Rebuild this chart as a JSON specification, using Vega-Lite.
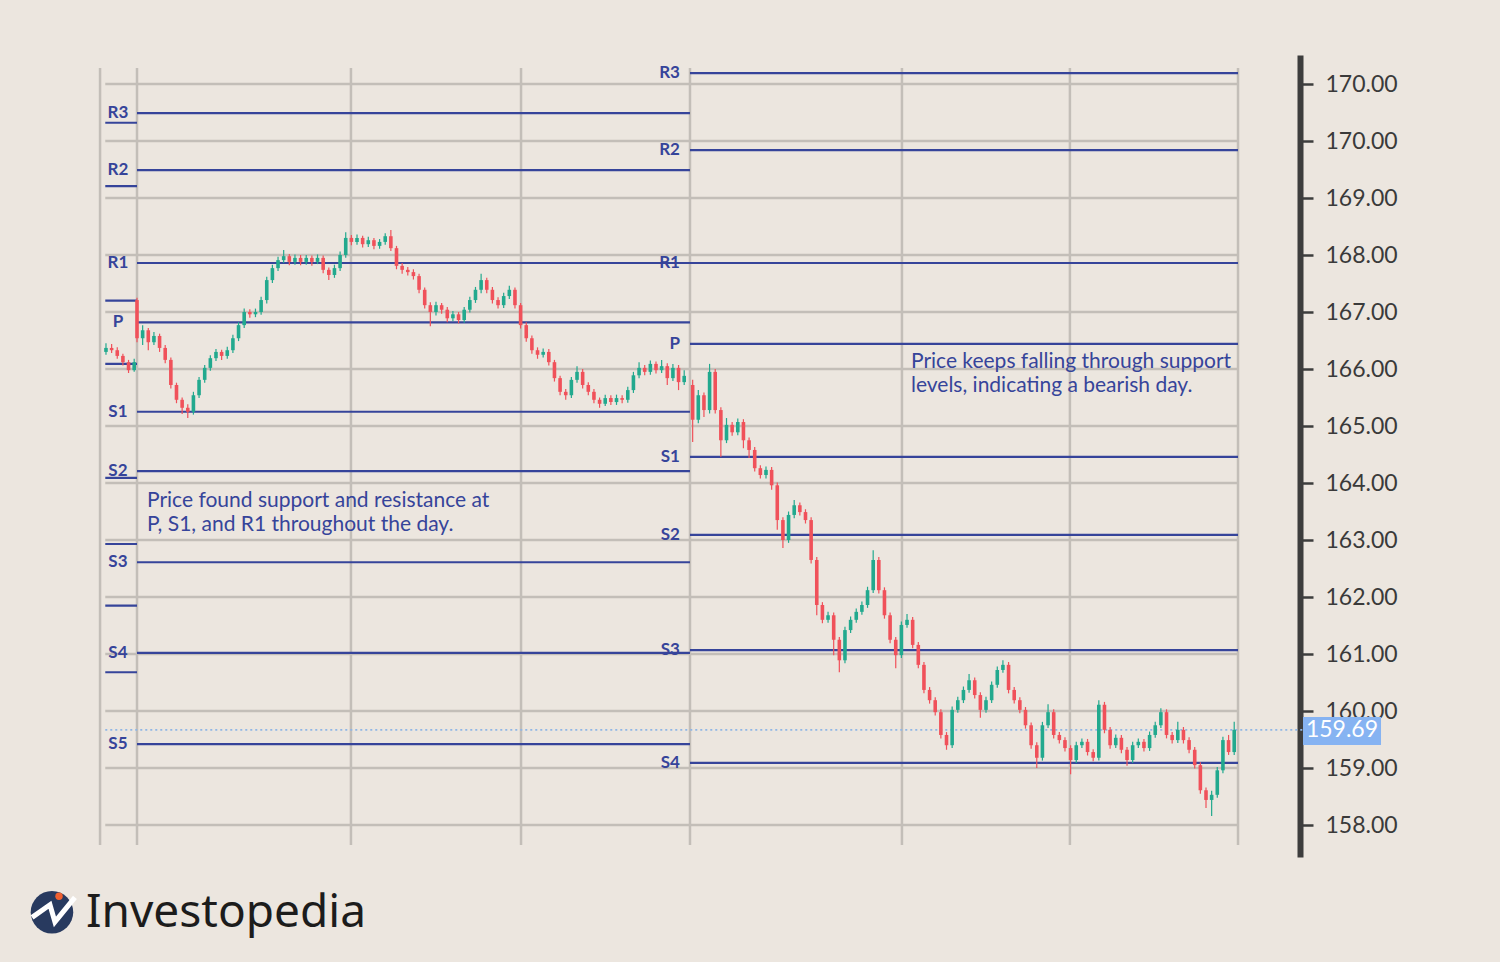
{
"$schema": "https://vega.github.io/schema/vega-lite/v6.json",
"autosize": "none",
"width": 1200,
"height": 802,
"padding": {"left": 100, "top": 55, "right": 200, "bottom": 105},
"background": "#ece6df",
"config": {"view": {"stroke": null}, "font": "Lato", "axis": {"grid": false}, "scale": {"continuousPadding": 0}},
"datasets": {
"hgrid": [{"p":158},{"p":159},{"p":160},{"p":161},{"p":162},{"p":163},{"p":164},{"p":165},{"p":166},{"p":167},{"p":168},{"p":169},{"p":170},{"p":171}],
"vgrid": [{"t":-26.2},{"t":0},{"t":151.7},{"t":272.3},{"t":392.1},{"t":542.4},{"t":661.5},{"t":780.7}],
"pivots": [
{"lvl":"R3","p":170.49,"t0":0,"t1":392.1,"day":1},{"lvl":"R2","p":169.49,"t0":0,"t1":392.1,"day":1},{"lvl":"R1","p":167.86,"t0":0,"t1":392.1,"day":1},{"lvl":"P","p":166.82,"t0":0,"t1":392.1,"day":1},{"lvl":"S1","p":165.25,"t0":0,"t1":392.1,"day":1},{"lvl":"S2","p":164.21,"t0":0,"t1":392.1,"day":1},{"lvl":"S3","p":162.61,"t0":0,"t1":392.1,"day":1},{"lvl":"S4","p":161.02,"t0":0,"t1":392.1,"day":1},{"lvl":"S5","p":159.42,"t0":0,"t1":392.1,"day":1},
{"lvl":"R3","p":171.19,"t0":392.1,"t1":780.7,"day":2},{"lvl":"R2","p":169.84,"t0":392.1,"t1":780.7,"day":2},{"lvl":"R1","p":167.86,"t0":392.1,"t1":780.7,"day":2},{"lvl":"P","p":166.44,"t0":392.1,"t1":780.7,"day":2},{"lvl":"S1","p":164.46,"t0":392.1,"t1":780.7,"day":2},{"lvl":"S2","p":163.09,"t0":392.1,"t1":780.7,"day":2},{"lvl":"S3","p":161.07,"t0":392.1,"t1":780.7,"day":2},{"lvl":"S4","p":159.09,"t0":392.1,"t1":780.7,"day":2},
{"lvl":"","p":170.32,"t0":-22.5,"t1":0,"day":0},{"lvl":"","p":169.21,"t0":-22.5,"t1":0,"day":0},{"lvl":"","p":167.20,"t0":-22.5,"t1":0,"day":0},{"lvl":"","p":166.09,"t0":-22.5,"t1":0,"day":0},{"lvl":"","p":164.09,"t0":-22.5,"t1":0,"day":0},{"lvl":"","p":162.93,"t0":-22.5,"t1":0,"day":0},{"lvl":"","p":161.85,"t0":-22.5,"t1":0,"day":0},{"lvl":"","p":160.68,"t0":-22.5,"t1":0,"day":0}
],
"candles": [
{"t":-22,"o":166.30,"h":166.45,"l":166.25,"c":166.37},
{"t":-18,"o":166.37,"h":166.44,"l":166.28,"c":166.33},
{"t":-14,"o":166.33,"h":166.38,"l":166.18,"c":166.23},
{"t":-10,"o":166.23,"h":166.27,"l":166.06,"c":166.12},
{"t":-6,"o":166.12,"h":166.16,"l":165.93,"c":165.98},
{"t":-2,"o":165.98,"h":166.18,"l":165.95,"c":166.12},
{"t":0,"o":167.21,"h":167.25,"l":166.47,"c":166.54},
{"t":4,"o":166.54,"h":166.77,"l":166.42,"c":166.68},
{"t":8,"o":166.68,"h":166.72,"l":166.33,"c":166.47},
{"t":12,"o":166.47,"h":166.65,"l":166.42,"c":166.58},
{"t":16,"o":166.58,"h":166.62,"l":166.30,"c":166.37},
{"t":20,"o":166.37,"h":166.42,"l":166.10,"c":166.16},
{"t":24,"o":166.16,"h":166.20,"l":165.66,"c":165.72},
{"t":28,"o":165.72,"h":165.76,"l":165.40,"c":165.46},
{"t":32,"o":165.46,"h":165.50,"l":165.21,"c":165.32},
{"t":36,"o":165.32,"h":165.38,"l":165.14,"c":165.25},
{"t":40,"o":165.25,"h":165.60,"l":165.20,"c":165.54},
{"t":44,"o":165.54,"h":165.86,"l":165.49,"c":165.81},
{"t":48,"o":165.81,"h":166.07,"l":165.76,"c":166.02},
{"t":52,"o":166.02,"h":166.24,"l":165.97,"c":166.19},
{"t":56,"o":166.19,"h":166.35,"l":166.14,"c":166.30},
{"t":60,"o":166.30,"h":166.34,"l":166.16,"c":166.23},
{"t":64,"o":166.23,"h":166.39,"l":166.18,"c":166.33},
{"t":68,"o":166.33,"h":166.60,"l":166.28,"c":166.54},
{"t":72,"o":166.54,"h":166.82,"l":166.49,"c":166.77},
{"t":76,"o":166.77,"h":167.06,"l":166.72,"c":167.00},
{"t":80,"o":167.00,"h":167.05,"l":166.90,"c":166.96},
{"t":84,"o":166.96,"h":167.06,"l":166.91,"c":167.00},
{"t":88,"o":167.00,"h":167.27,"l":166.95,"c":167.21},
{"t":92,"o":167.21,"h":167.62,"l":167.15,"c":167.56},
{"t":96,"o":167.56,"h":167.83,"l":167.51,"c":167.77},
{"t":100,"o":167.77,"h":167.97,"l":167.72,"c":167.91},
{"t":104,"o":167.91,"h":168.09,"l":167.86,"c":167.98},
{"t":108,"o":167.98,"h":168.02,"l":167.82,"c":167.88},
{"t":112,"o":167.88,"h":168.01,"l":167.83,"c":167.95},
{"t":116,"o":167.95,"h":168.00,"l":167.82,"c":167.88},
{"t":120,"o":167.88,"h":168.00,"l":167.83,"c":167.95},
{"t":124,"o":167.95,"h":167.99,"l":167.81,"c":167.88},
{"t":128,"o":167.88,"h":168.01,"l":167.84,"c":167.95},
{"t":132,"o":167.95,"h":167.99,"l":167.68,"c":167.74},
{"t":136,"o":167.74,"h":167.78,"l":167.56,"c":167.65},
{"t":140,"o":167.65,"h":167.83,"l":167.60,"c":167.77},
{"t":144,"o":167.77,"h":168.06,"l":167.72,"c":168.00},
{"t":148,"o":168.00,"h":168.40,"l":167.95,"c":168.30},
{"t":152,"o":168.30,"h":168.35,"l":168.17,"c":168.23},
{"t":156,"o":168.23,"h":168.36,"l":168.18,"c":168.30},
{"t":160,"o":168.30,"h":168.34,"l":168.13,"c":168.19},
{"t":164,"o":168.19,"h":168.32,"l":168.14,"c":168.26},
{"t":168,"o":168.26,"h":168.30,"l":168.10,"c":168.16},
{"t":172,"o":168.16,"h":168.28,"l":168.11,"c":168.23},
{"t":176,"o":168.23,"h":168.38,"l":168.18,"c":168.33},
{"t":180,"o":168.33,"h":168.44,"l":168.07,"c":168.12},
{"t":184,"o":168.12,"h":168.16,"l":167.75,"c":167.81},
{"t":188,"o":167.81,"h":167.86,"l":167.67,"c":167.74},
{"t":192,"o":167.74,"h":167.79,"l":167.64,"c":167.70},
{"t":196,"o":167.70,"h":167.75,"l":167.57,"c":167.63},
{"t":200,"o":167.63,"h":167.67,"l":167.33,"c":167.39},
{"t":204,"o":167.39,"h":167.43,"l":167.06,"c":167.12},
{"t":208,"o":167.12,"h":167.17,"l":166.75,"c":167.00},
{"t":212,"o":167.00,"h":167.18,"l":166.94,"c":167.12},
{"t":216,"o":167.12,"h":167.16,"l":166.97,"c":167.04},
{"t":220,"o":167.04,"h":167.09,"l":166.82,"c":166.89},
{"t":224,"o":166.89,"h":167.02,"l":166.84,"c":166.96},
{"t":228,"o":166.96,"h":167.00,"l":166.80,"c":166.86},
{"t":232,"o":166.86,"h":167.09,"l":166.81,"c":167.04},
{"t":236,"o":167.04,"h":167.27,"l":166.99,"c":167.21},
{"t":240,"o":167.21,"h":167.44,"l":167.16,"c":167.39},
{"t":244,"o":167.39,"h":167.67,"l":167.33,"c":167.56},
{"t":248,"o":167.56,"h":167.60,"l":167.33,"c":167.39},
{"t":252,"o":167.39,"h":167.44,"l":167.15,"c":167.21},
{"t":256,"o":167.21,"h":167.26,"l":167.06,"c":167.12},
{"t":260,"o":167.12,"h":167.34,"l":167.07,"c":167.28},
{"t":264,"o":167.28,"h":167.46,"l":167.23,"c":167.39},
{"t":268,"o":167.39,"h":167.43,"l":167.06,"c":167.12},
{"t":272,"o":167.12,"h":167.16,"l":166.71,"c":166.77},
{"t":276,"o":166.77,"h":166.82,"l":166.48,"c":166.54},
{"t":280,"o":166.54,"h":166.59,"l":166.27,"c":166.33},
{"t":284,"o":166.33,"h":166.38,"l":166.18,"c":166.25},
{"t":288,"o":166.25,"h":166.36,"l":166.20,"c":166.30},
{"t":292,"o":166.30,"h":166.35,"l":166.06,"c":166.12},
{"t":296,"o":166.12,"h":166.16,"l":165.78,"c":165.84},
{"t":300,"o":165.84,"h":165.88,"l":165.54,"c":165.60},
{"t":304,"o":165.60,"h":165.65,"l":165.46,"c":165.54},
{"t":308,"o":165.54,"h":165.86,"l":165.49,"c":165.81},
{"t":312,"o":165.81,"h":166.05,"l":165.76,"c":165.95},
{"t":316,"o":165.95,"h":166.00,"l":165.66,"c":165.72},
{"t":320,"o":165.72,"h":165.77,"l":165.54,"c":165.60},
{"t":324,"o":165.60,"h":165.65,"l":165.40,"c":165.46},
{"t":328,"o":165.46,"h":165.50,"l":165.32,"c":165.39},
{"t":332,"o":165.39,"h":165.55,"l":165.35,"c":165.49},
{"t":336,"o":165.49,"h":165.54,"l":165.37,"c":165.42},
{"t":340,"o":165.42,"h":165.55,"l":165.37,"c":165.49},
{"t":344,"o":165.49,"h":165.54,"l":165.40,"c":165.46},
{"t":348,"o":165.46,"h":165.69,"l":165.41,"c":165.63},
{"t":352,"o":165.63,"h":165.95,"l":165.58,"c":165.89},
{"t":356,"o":165.89,"h":166.12,"l":165.84,"c":166.02},
{"t":360,"o":166.02,"h":166.07,"l":165.89,"c":165.95},
{"t":364,"o":165.95,"h":166.15,"l":165.90,"c":166.09},
{"t":368,"o":166.09,"h":166.13,"l":165.92,"c":165.98},
{"t":372,"o":165.98,"h":166.16,"l":165.93,"c":166.05},
{"t":376,"o":166.05,"h":166.10,"l":165.72,"c":165.84},
{"t":380,"o":165.84,"h":166.09,"l":165.79,"c":166.02},
{"t":384,"o":166.02,"h":166.07,"l":165.63,"c":165.77},
{"t":388,"o":165.77,"h":165.98,"l":165.72,"c":165.88},
{"t":394,"o":165.72,"h":165.81,"l":164.72,"c":165.11},
{"t":398,"o":165.11,"h":165.63,"l":165.05,"c":165.54},
{"t":402,"o":165.54,"h":165.59,"l":165.16,"c":165.28},
{"t":406,"o":165.28,"h":166.09,"l":165.22,"c":165.95},
{"t":410,"o":165.95,"h":166.00,"l":165.22,"c":165.28},
{"t":414,"o":165.28,"h":165.33,"l":164.46,"c":164.75},
{"t":418,"o":164.75,"h":165.14,"l":164.70,"c":165.02},
{"t":422,"o":165.02,"h":165.07,"l":164.83,"c":164.89},
{"t":426,"o":164.89,"h":165.13,"l":164.84,"c":165.07},
{"t":430,"o":165.07,"h":165.12,"l":164.61,"c":164.75},
{"t":434,"o":164.75,"h":164.80,"l":164.44,"c":164.58},
{"t":438,"o":164.58,"h":164.63,"l":164.20,"c":164.26},
{"t":442,"o":164.26,"h":164.31,"l":164.08,"c":164.14},
{"t":446,"o":164.14,"h":164.29,"l":164.08,"c":164.23},
{"t":450,"o":164.23,"h":164.28,"l":163.88,"c":163.96},
{"t":454,"o":163.96,"h":164.01,"l":163.18,"c":163.35},
{"t":458,"o":163.35,"h":163.40,"l":162.86,"c":163.00},
{"t":462,"o":163.00,"h":163.50,"l":162.95,"c":163.44},
{"t":466,"o":163.44,"h":163.70,"l":163.38,"c":163.61},
{"t":470,"o":163.61,"h":163.66,"l":163.43,"c":163.49},
{"t":474,"o":163.49,"h":163.54,"l":163.29,"c":163.35},
{"t":478,"o":163.35,"h":163.40,"l":162.59,"c":162.65},
{"t":482,"o":162.65,"h":162.70,"l":161.68,"c":161.86},
{"t":486,"o":161.86,"h":161.91,"l":161.54,"c":161.60},
{"t":490,"o":161.60,"h":161.74,"l":161.55,"c":161.68},
{"t":494,"o":161.68,"h":161.73,"l":160.98,"c":161.25},
{"t":498,"o":161.25,"h":161.30,"l":160.68,"c":160.89},
{"t":502,"o":160.89,"h":161.48,"l":160.84,"c":161.42},
{"t":506,"o":161.42,"h":161.66,"l":161.37,"c":161.60},
{"t":510,"o":161.60,"h":161.80,"l":161.55,"c":161.74},
{"t":514,"o":161.74,"h":161.92,"l":161.69,"c":161.86},
{"t":518,"o":161.86,"h":162.18,"l":161.81,"c":162.12},
{"t":522,"o":162.12,"h":162.82,"l":162.07,"c":162.65},
{"t":526,"o":162.65,"h":162.70,"l":162.06,"c":162.12},
{"t":530,"o":162.12,"h":162.17,"l":161.62,"c":161.68},
{"t":534,"o":161.68,"h":161.73,"l":161.19,"c":161.25},
{"t":538,"o":161.25,"h":161.30,"l":160.75,"c":160.98},
{"t":542,"o":160.98,"h":161.57,"l":160.93,"c":161.51},
{"t":546,"o":161.51,"h":161.70,"l":161.46,"c":161.60},
{"t":550,"o":161.60,"h":161.65,"l":161.10,"c":161.16},
{"t":554,"o":161.16,"h":161.21,"l":160.75,"c":160.81},
{"t":558,"o":160.81,"h":160.86,"l":160.31,"c":160.37},
{"t":562,"o":160.37,"h":160.42,"l":160.13,"c":160.19},
{"t":566,"o":160.19,"h":160.24,"l":159.92,"c":159.98},
{"t":570,"o":159.98,"h":160.03,"l":159.52,"c":159.58},
{"t":574,"o":159.58,"h":159.63,"l":159.32,"c":159.40},
{"t":578,"o":159.40,"h":160.08,"l":159.35,"c":160.02},
{"t":582,"o":160.02,"h":160.25,"l":159.97,"c":160.19},
{"t":586,"o":160.19,"h":160.43,"l":160.14,"c":160.37},
{"t":590,"o":160.37,"h":160.65,"l":160.32,"c":160.54},
{"t":594,"o":160.54,"h":160.59,"l":160.22,"c":160.28},
{"t":598,"o":160.28,"h":160.33,"l":159.88,"c":160.02},
{"t":602,"o":160.02,"h":160.25,"l":159.97,"c":160.19},
{"t":606,"o":160.19,"h":160.52,"l":160.14,"c":160.46},
{"t":610,"o":160.46,"h":160.78,"l":160.41,"c":160.72},
{"t":614,"o":160.72,"h":160.89,"l":160.67,"c":160.81},
{"t":618,"o":160.81,"h":160.86,"l":160.31,"c":160.37},
{"t":622,"o":160.37,"h":160.42,"l":160.13,"c":160.19},
{"t":626,"o":160.19,"h":160.24,"l":159.96,"c":160.02},
{"t":630,"o":160.02,"h":160.07,"l":159.69,"c":159.75},
{"t":634,"o":159.75,"h":159.80,"l":159.34,"c":159.40},
{"t":638,"o":159.40,"h":159.45,"l":159.00,"c":159.18},
{"t":642,"o":159.18,"h":159.81,"l":159.13,"c":159.75},
{"t":646,"o":159.75,"h":160.12,"l":159.70,"c":159.98},
{"t":650,"o":159.98,"h":160.03,"l":159.52,"c":159.58},
{"t":654,"o":159.58,"h":159.63,"l":159.43,"c":159.49},
{"t":658,"o":159.49,"h":159.54,"l":159.29,"c":159.35},
{"t":662,"o":159.35,"h":159.40,"l":158.89,"c":159.14},
{"t":666,"o":159.14,"h":159.46,"l":159.09,"c":159.40},
{"t":670,"o":159.40,"h":159.52,"l":159.35,"c":159.46},
{"t":674,"o":159.46,"h":159.51,"l":159.22,"c":159.28},
{"t":678,"o":159.28,"h":159.33,"l":159.12,"c":159.18},
{"t":682,"o":159.18,"h":160.19,"l":159.13,"c":160.11},
{"t":686,"o":160.11,"h":160.16,"l":159.61,"c":159.67},
{"t":690,"o":159.67,"h":159.72,"l":159.34,"c":159.40},
{"t":694,"o":159.40,"h":159.59,"l":159.35,"c":159.53},
{"t":698,"o":159.53,"h":159.58,"l":159.26,"c":159.32},
{"t":702,"o":159.32,"h":159.37,"l":159.04,"c":159.14},
{"t":706,"o":159.14,"h":159.46,"l":159.09,"c":159.40},
{"t":710,"o":159.40,"h":159.52,"l":159.35,"c":159.46},
{"t":714,"o":159.46,"h":159.51,"l":159.29,"c":159.35},
{"t":718,"o":159.35,"h":159.64,"l":159.30,"c":159.58},
{"t":722,"o":159.58,"h":159.81,"l":159.53,"c":159.75},
{"t":726,"o":159.75,"h":160.05,"l":159.70,"c":159.98},
{"t":730,"o":159.98,"h":160.03,"l":159.52,"c":159.58},
{"t":734,"o":159.58,"h":159.63,"l":159.43,"c":159.49},
{"t":738,"o":159.49,"h":159.81,"l":159.44,"c":159.67},
{"t":742,"o":159.67,"h":159.72,"l":159.43,"c":159.49},
{"t":746,"o":159.49,"h":159.54,"l":159.26,"c":159.32},
{"t":750,"o":159.32,"h":159.37,"l":158.99,"c":159.05},
{"t":754,"o":159.05,"h":159.10,"l":158.55,"c":158.61},
{"t":758,"o":158.61,"h":158.66,"l":158.30,"c":158.44},
{"t":762,"o":158.44,"h":158.60,"l":158.16,"c":158.53},
{"t":766,"o":158.53,"h":159.02,"l":158.48,"c":158.96},
{"t":770,"o":158.96,"h":159.55,"l":158.91,"c":159.49},
{"t":774,"o":159.49,"h":159.58,"l":159.23,"c":159.28},
{"t":778,"o":159.28,"h":159.81,"l":159.23,"c":159.67}
],
"notes": [
{"t":7.1,"p":163.684,"txt":"Price found support and resistance at"},
{"t":7.1,"p":163.263,"txt":"P, S1, and R1 throughout the day."},
{"t":548.8,"p":166.123,"txt":"Price keeps falling through support"},
{"t":548.8,"p":165.702,"txt":"levels, indicating a bearish day."}
],
"last": [{"t0":-22.5,"t1":826.8,"tx":854.4,"tb0":826.8,"tb1":882.1,"p":159.67,"pb0":159.404,"pb1":159.895,"txt":"159.69"}],
"logo": [{"t":-60.3,"p":156.47,"tt":-36.2,"tp":156.45,"dt":-55.3,"dp":156.75,"txt":"Investopedia"}],
"zig": [{"i":0,"t":-74.4,"p":156.38},{"i":1,"t":-61.7,"p":156.60},{"i":2,"t":-58.2,"p":156.30},{"i":3,"t":-44.0,"p":156.73}]
},
"layer": [
{
"data": {"name": "hgrid"},
"mark": {"type": "rule", "color": "#c3beb8", "strokeWidth": 2.5},
"encoding": {
"x": {"datum": -22.5, "type": "quantitative", "scale": {"domain": [-26.24, 824.65], "nice": false, "zero": false, "padding": 0}, "axis": null},
"x2": {"datum": 780.7},
"y": {"field": "p", "type": "quantitative", "scale": {"domain": [157.439, 171.509], "nice": false, "zero": false, "padding": 0},
"axis": {"orient": "right", "title": null, "values": [158,159,160,161,162,163,164,165,166,167,168,169,170,171],
"labelExpr": "datum.value == 171 ? '170.00' : format(datum.value, '.2f')",
"domainColor": "#3d3d3d", "domainWidth": 6, "tickColor": "#3d3d3d", "tickWidth": 2.5, "tickSize": 13,
"labelFontSize": 23, "labelColor": "#3a3a3a", "labelPadding": 12, "labelFont": "Lato", "grid": false, "labelOverlap": false}}
}
},
{
"data": {"name": "vgrid"},
"mark": {"type": "rule", "color": "#c3beb8", "strokeWidth": 2.5},
"encoding": {
"x": {"field": "t", "type": "quantitative"},
"y": {"datum": 171.28, "type": "quantitative"},
"y2": {"datum": 157.65}
}
},
{
"data": {"name": "pivots"},
"mark": {"type": "rule", "color": "#36449a", "strokeWidth": 2.2},
"encoding": {
"x": {"field": "t0", "type": "quantitative"},
"x2": {"field": "t1"},
"y": {"field": "p", "type": "quantitative"}
}
},
{
"data": {"name": "last"},
"mark": {"type": "rule", "color": "#8fb6e6", "strokeWidth": 1.6, "strokeDash": [2, 3]},
"encoding": {
"x": {"field": "t0", "type": "quantitative"},
"x2": {"field": "t1"},
"y": {"field": "p", "type": "quantitative"}
}
},
{
"data": {"name": "candles"},
"mark": {"type": "rule", "strokeWidth": 1.2},
"encoding": {
"x": {"field": "t", "type": "quantitative"},
"y": {"field": "l", "type": "quantitative"},
"y2": {"field": "h"},
"color": {"condition": {"test": "datum.c >= datum.o", "value": "#22a98e"}, "value": "#f0515a"}
}
},
{
"data": {"name": "candles"},
"mark": {"type": "bar", "size": 3.6},
"encoding": {
"x": {"field": "t", "type": "quantitative"},
"y": {"field": "o", "type": "quantitative"},
"y2": {"field": "c"},
"color": {"condition": {"test": "datum.c >= datum.o", "value": "#22a98e"}, "value": "#f0515a"}
}
},
{
"data": {"name": "pivots"},
"transform": [{"filter": "datum.day == 1"}],
"mark": {"type": "text", "align": "center", "baseline": "middle", "fontSize": 17, "color": "#36449a", "fontWeight": "bold"},
"encoding": {
"x": {"datum": -13.5, "type": "quantitative"},
"y": {"field": "p", "type": "quantitative"},
"text": {"field": "lvl"}
}
},
{
"data": {"name": "pivots"},
"transform": [{"filter": "datum.day == 2"}],
"mark": {"type": "text", "align": "right", "baseline": "middle", "fontSize": 17, "color": "#36449a", "fontWeight": "bold"},
"encoding": {
"x": {"datum": 385, "type": "quantitative"},
"y": {"field": "p", "type": "quantitative"},
"text": {"field": "lvl"}
}
},
{
"data": {"name": "notes"},
"mark": {"type": "text", "align": "left", "baseline": "middle", "fontSize": 21, "color": "#36449a"},
"encoding": {
"x": {"field": "t", "type": "quantitative"},
"y": {"field": "p", "type": "quantitative"},
"text": {"field": "txt"}
}
},
{
"data": {"name": "last"},
"mark": {"type": "rect", "color": "#86b3f2"},
"encoding": {
"x": {"field": "tb0", "type": "quantitative"},
"x2": {"field": "tb1"},
"y": {"field": "pb0", "type": "quantitative"},
"y2": {"field": "pb1"}
}
},
{
"data": {"name": "last"},
"mark": {"type": "text", "align": "center", "baseline": "middle", "fontSize": 23, "color": "#ffffff"},
"encoding": {
"x": {"field": "tx", "type": "quantitative"},
"y": {"field": "p", "type": "quantitative"},
"text": {"field": "txt"}
}
},
{
"data": {"name": "logo"},
"mark": {"type": "point", "shape": "circle", "filled": true, "size": 1810, "color": "#283a5f", "opacity": 1},
"encoding": {
"x": {"field": "t", "type": "quantitative"},
"y": {"field": "p", "type": "quantitative"}
}
},
{
"data": {"name": "zig"},
"mark": {"type": "line", "color": "#ffffff", "strokeWidth": 5, "strokeJoin": "miter"},
"encoding": {
"x": {"field": "t", "type": "quantitative"},
"y": {"field": "p", "type": "quantitative"},
"order": {"field": "i"}
}
},
{
"data": {"name": "logo"},
"mark": {"type": "point", "shape": "circle", "filled": true, "size": 55, "color": "#f06030", "opacity": 1},
"encoding": {
"x": {"field": "dt", "type": "quantitative"},
"y": {"field": "dp", "type": "quantitative"}
}
},
{
"data": {"name": "logo"},
"mark": {"type": "text", "align": "left", "baseline": "middle", "fontSize": 46, "font": "Noto Sans", "color": "#1c1c1c"},
"encoding": {
"x": {"field": "tt", "type": "quantitative"},
"y": {"field": "tp", "type": "quantitative"},
"text": {"field": "txt"}
}
}
]
}
